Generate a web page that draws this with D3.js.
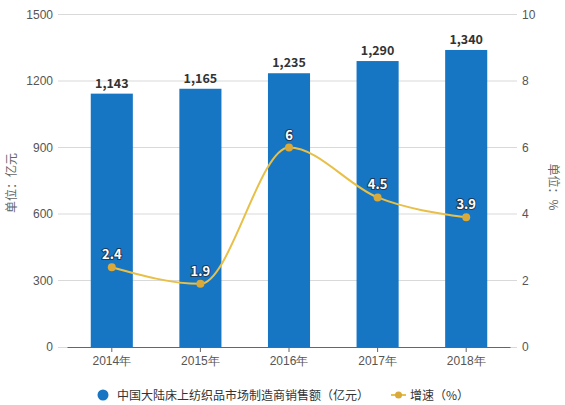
<!DOCTYPE html>
<html><head><meta charset="utf-8">
<script src="https://cdn.jsdelivr.net/npm/d3@7"></script>
<style>body{margin:0;background:#fff;}svg{display:block;font-family:"Microsoft YaHei","Noto Sans CJK SC","Noto Sans",sans-serif;}</style>
</head><body><svg id="c" width="565" height="405"></svg>
<script>
const categories = ["2014年","2015年","2016年","2017年","2018年"];
const salesValues = [1143, 1165, 1235, 1290, 1340];
const growthValues = [2.4, 1.9, 6, 4.5, 3.9];
const leftTicks = [0, 300, 600, 900, 1200, 1500];
const rightTicks = [0, 2, 4, 6, 8, 10];
const seriesNames = ["中国大陆床上纺织品市场制造商销售额（亿元）", "增速（%）"];
const axisTitles = ["单位：亿元", "单位：%"];

const svg = d3.select("#c");
const L = 67.5, R = 510.5, T = 14.5, B = 347;
const x = d3.scaleBand().domain(categories).range([L, R]).paddingInner(0.525).paddingOuter(0.2625);
const y = d3.scaleLinear().domain([0, 1500]).range([B, T]);
const y2 = d3.scaleLinear().domain([0, 10]).range([B, T]);

// gridlines
svg.append("g").selectAll("line").data(leftTicks.slice(1)).join("line")
  .attr("x1", 58).attr("x2", 517).attr("y1", d => y(d)).attr("y2", d => y(d))
  .attr("stroke", "#d9d9d9").attr("stroke-width", 1);

// left axis labels
const yAxis = d3.axisLeft(y).tickValues(leftTicks).tickFormat(d3.format("d")).tickSize(0).tickPadding(0);
const gy = svg.append("g").attr("transform", "translate(53,0)").call(yAxis);
gy.select(".domain").remove();
gy.selectAll("text").attr("fill", "#555").attr("font-size", 12);

const yAxis2 = d3.axisRight(y2).tickValues(rightTicks).tickFormat(d3.format("d")).tickSize(0).tickPadding(0);
const gy2 = svg.append("g").attr("transform", "translate(522,0)").call(yAxis2);
gy2.select(".domain").remove();
gy2.selectAll("text").attr("fill", "#555").attr("font-size", 12);

// baseline grid
svg.append("line").attr("x1", 58).attr("x2", 517).attr("y1", B + 0.5).attr("y2", B + 0.5).attr("stroke", "#d9d9d9");

// bars
svg.append("g").selectAll("rect").data(salesValues).join("rect")
  .attr("x", (d, i) => x(categories[i])).attr("width", x.bandwidth())
  .attr("y", d => y(d)).attr("height", d => B - y(d)).attr("fill", "#1776c4");

// x axis
const xAxis = d3.axisBottom(x).tickSize(5).tickPadding(4);
const gx = svg.append("g").attr("transform", `translate(0,${B})`).call(xAxis);
gx.select(".domain").attr("stroke", "#666").attr("d", `M${L},0.5H${R}`);
gx.selectAll(".tick line").attr("stroke", "#666");
gx.selectAll("text").attr("fill", "#555").attr("font-size", 12);

// bar labels
svg.append("g").selectAll("text").data(salesValues).join("text")
  .attr("x", (d, i) => x(categories[i]) + x.bandwidth() / 2).attr("y", d => y(d) - 6)
  .attr("text-anchor", "middle").attr("font-size", 12.5).attr("font-weight", "bold").attr("fill", "#333")
  .text(d => d3.format(",")(d));

// line
const cx = (i) => x(categories[i]) + x.bandwidth() / 2;
const line = d3.line().x((d, i) => cx(i)).y(d => y2(d)).curve(d3.curveMonotoneX);
svg.append("path").datum(growthValues).attr("d", line).attr("fill", "none")
  .attr("stroke", "#e8c048").attr("stroke-width", 2);
svg.append("g").selectAll("circle").data(growthValues).join("circle")
  .attr("cx", (d, i) => cx(i)).attr("cy", d => y2(d)).attr("r", 4).attr("fill", "#d9a93a");
svg.append("g").selectAll("text").data(growthValues).join("text")
  .attr("x", (d, i) => cx(i)).attr("y", d => y2(d) - 8)
  .attr("text-anchor", "middle").attr("font-size", 13).attr("font-weight", "bold")
  .attr("fill", "#fff").attr("stroke", "#1f3b57").attr("stroke-width", 2).attr("paint-order", "stroke")
  .text(d => d);

// axis titles
svg.append("text").attr("transform", "translate(16,183) rotate(-90)").attr("text-anchor", "middle")
  .attr("font-size", 12).attr("fill", "#666").text(axisTitles[0]);
svg.append("text").attr("transform", "translate(549,187) rotate(90)").attr("text-anchor", "middle")
  .attr("font-size", 12).attr("fill", "#666").text(axisTitles[1]);

// legend
const lg = svg.append("g");
lg.append("circle").attr("cx", 103).attr("cy", 395).attr("r", 5.5).attr("fill", "#1776c4");
lg.append("text").attr("x", 117).attr("y", 399.5).attr("font-size", 12).attr("fill", "#333").text(seriesNames[0]);
lg.append("line").attr("x1", 391).attr("x2", 406).attr("y1", 395).attr("y2", 395).attr("stroke", "#e8c048").attr("stroke-width", 2);
lg.append("circle").attr("cx", 398.5).attr("cy", 395).attr("r", 3.5).attr("fill", "#d9a93a");
lg.append("text").attr("x", 410).attr("y", 399.5).attr("font-size", 12).attr("fill", "#333").text(seriesNames[1]);
</script></body></html>
